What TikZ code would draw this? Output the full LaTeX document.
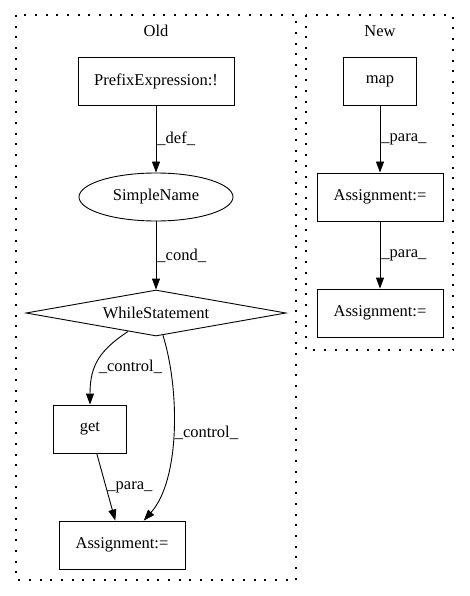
\documentclass[tikz,border=0pt]{standalone}
\usepackage{fontspec}
\setmainfont{Liberation Serif}
\usetikzlibrary{shapes.geometric,arrows.meta}

\begin{document}
\begin{tikzpicture}[x=1pt,y=-1pt,>={Triangle[length=11pt,width=8pt]}]
      \useasboundingbox (0,0) rectangle (469,596);
      \begin{scope}[font=\fontsize{16.5}{19}\selectfont, line width=0.9pt]
        \draw[dash pattern=on 2pt off 8.7pt, line width=1.3pt] (16,15) rectangle (296,580);
        \draw[dash pattern=on 2pt off 8.7pt, line width=1.3pt] (306,15) rectangle (453,350);
        \node (old) at (156,31) {Old};
        \node (new) at (380,31) {New};

        \node[draw, minimum width=156pt, minimum height=48pt] (prefix) at (156,81) {PrefixExpression:!};
        \node[draw, ellipse, minimum width=154pt, minimum height=48pt, inner sep=0pt] (sname) at (156,197) {SimpleName};
        \node[draw, diamond, aspect=5.65, minimum width=260pt, minimum height=46pt, inner sep=0pt] (while) at (156,313) {WhileStatement};
        \node[draw, minimum width=73pt, minimum height=48pt] (get) at (90,429) {get};
        \node[draw, minimum width=126pt, minimum height=48pt] (assignOld) at (122,545) {Assignment:=};

        \node[draw, minimum width=73pt, minimum height=48pt] (map) at (380,81) {map};
        \node[draw, minimum width=126pt, minimum height=48pt] (assignA) at (380,197) {Assignment:=};
        \node[draw, minimum width=126pt, minimum height=48pt] (assignB) at (380,313) {Assignment:=};

        \draw [->] (prefix) -- node [right, inner sep=1pt] {\_def\_} (sname);
        \draw [->] (sname) -- node [right, inner sep=1pt] {\_cond\_} (while);
        \draw [->] (while) .. controls (100,350) and (90,365) .. node [pos=0.6, right, inner sep=3pt] {\_control\_} (get);
        \draw [->] (while) .. controls (180,390) and (180,480) .. node [pos=0.5, right, inner sep=1pt] {\_control\_} (assignOld);
        \draw [->] (get) -- node [right, inner sep=1pt] {\_para\_} (assignOld);

        \draw [->] (map) -- node [right, inner sep=1pt] {\_para\_} (assignA);
        \draw [->] (assignA) -- node [right, inner sep=1pt] {\_para\_} (assignB);
      \end{scope}
    \end{tikzpicture}
\end{document}
